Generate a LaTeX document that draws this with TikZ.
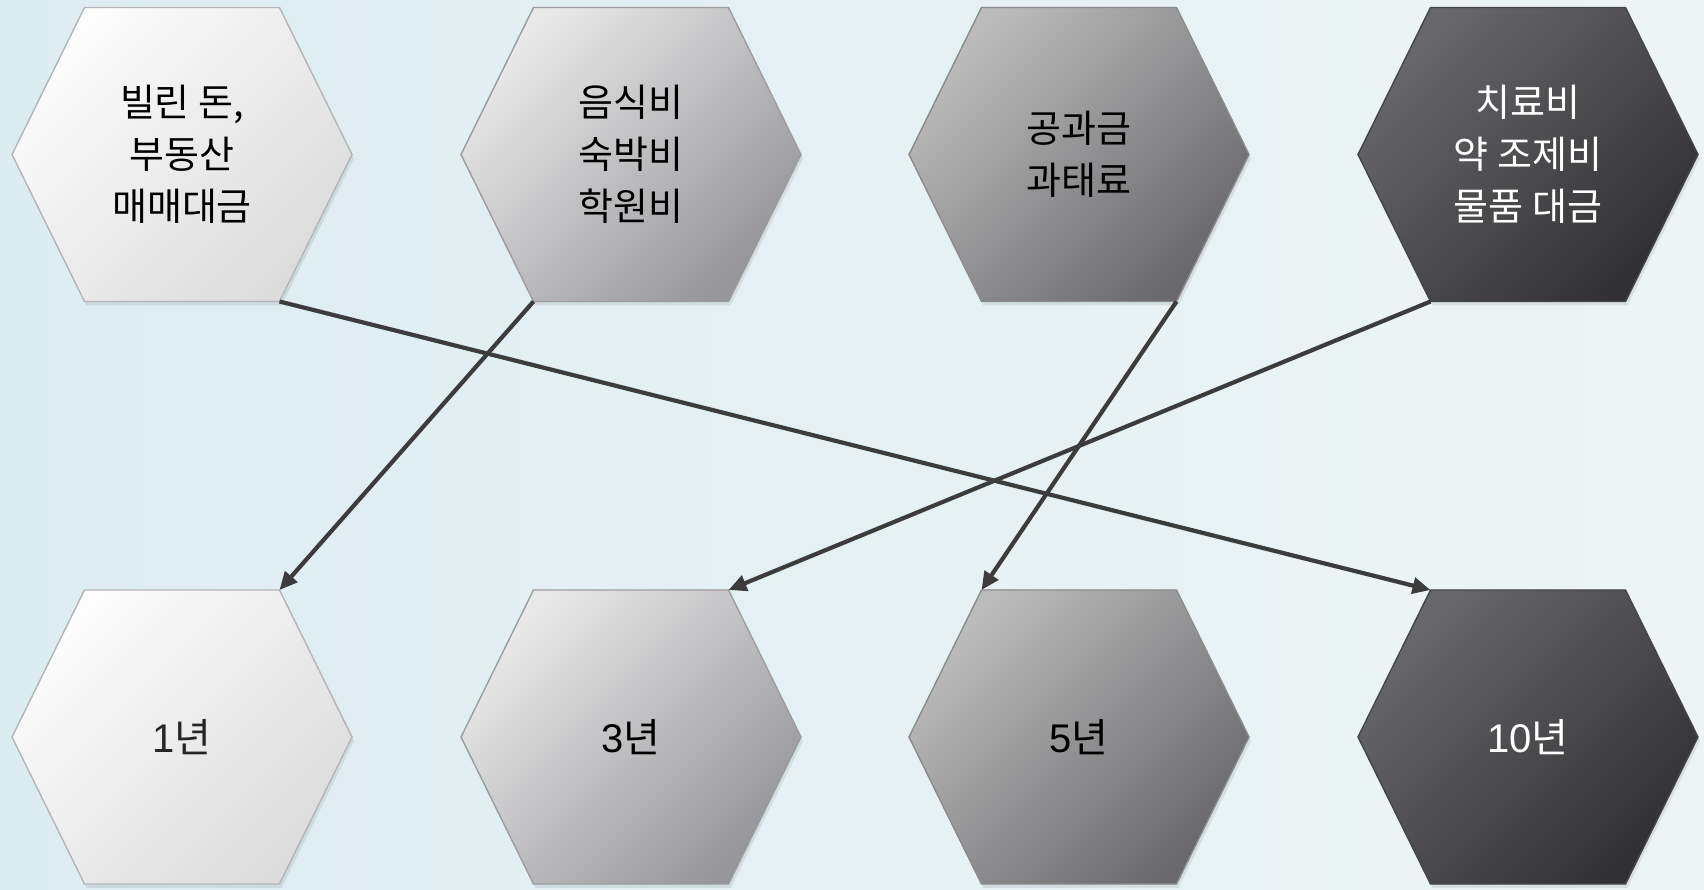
\documentclass[tikz,border=0pt]{standalone}
\usepackage{fontspec}
\newfontfamily\krfont{Noto Sans CJK KR}
\newfontfamily\numfont{Liberation Sans}
\usetikzlibrary{calc,arrows.meta,positioning}

\definecolor{bgleft}{HTML}{DCEDF2}
\definecolor{bgright}{HTML}{EEF4F5}
\definecolor{linkgray}{HTML}{3C3C3C}
\definecolor{h1a}{HTML}{FCFCFC}
\definecolor{h1b}{HTML}{DCDCDC}
\definecolor{h1d}{HTML}{B4B4B4}
\definecolor{h2a}{HTML}{E9E9E9}
\definecolor{h2b}{HTML}{96969B}
\definecolor{h2d}{HTML}{9C9C9C}
\definecolor{h3a}{HTML}{BCBCBC}
\definecolor{h3b}{HTML}{69696D}
\definecolor{h3d}{HTML}{8A8A8A}
\definecolor{h4a}{HTML}{68686C}
\definecolor{h4b}{HTML}{313133}
\definecolor{h4d}{HTML}{454545}

\begin{document}
\begin{tikzpicture}[x=1pt,y=1pt,
  hexbody/.style={line width=1.4pt},
  link/.style={draw=linkgray,line width=4.2pt,-{Triangle[length=18pt,width=16pt]}},
  toptext/.style={font=\krfont\fontsize{38}{52}\selectfont,align=center,inner sep=0pt},
  bottext/.style={font=\fontsize{40}{48}\selectfont,inner sep=0pt}]

\useasboundingbox (0,0) rectangle (1704,889);
\shade[left color=bgleft,right color=bgright] (0,0) rectangle (1704,889);

% hexagon centres, top row t, bottom row b
\foreach \i/\x in {1/182,2/631,3/1079,4/1528}{
  \coordinate (t\i) at (\x,734.5);
  \coordinate (b\i) at (\x,152);
}

% hexagons
\foreach \i/\ca/\cb/\cd in {1/h1a/h1b/h1d,2/h2a/h2b/h2d,3/h3a/h3b/h3d,4/h4a/h4b/h4d}{
  \foreach \r in {t,b}{
    \fill[black,opacity=0.08,shift={(\r\i)},xshift=2pt,yshift=-4pt]
      (-170,0) -- (-97.5,147) -- (97.5,147) -- (170,0) -- (97.5,-147) -- (-97.5,-147) -- cycle;
    \shadedraw[hexbody,shift={(\r\i)},top color=\ca,bottom color=\cb,shading angle=45,draw=\cd]
      (-170,0) -- (-97.5,147) -- (97.5,147) -- (170,0) -- (97.5,-147) -- (-97.5,-147) -- cycle;
  }
}

% corners used by the arrows
\coordinate (t1br) at ($(t1)+(97.5,-147)$);
\coordinate (t2bl) at ($(t2)+(-97.5,-147)$);
\coordinate (t3br) at ($(t3)+(97.5,-147)$);
\coordinate (t4bl) at ($(t4)+(-97.5,-147)$);
\coordinate (b1tr) at ($(b1)+(97.5,147)$);
\coordinate (b2tr) at ($(b2)+(97.5,147)$);
\coordinate (b3tl) at ($(b3)+(-97.5,147)$);
\coordinate (b4tl) at ($(b4)+(-97.5,147)$);

\node[toptext] (s1) at (t1) {빌린 돈,\\부동산\\매매대금};
\node[toptext] (s2) at (t2) {음식비\\숙박비\\학원비};
\node[toptext] (s3) at (t3) {공과금\\과태료};
\node[toptext,text=white] (s4) at (t4) {치료비\\약 조제비\\물품 대금};

\node[bottext,text=black!85] (y1) at (b1) {\numfont 1\krfont 년};
\node[bottext] (y3) at (b2) {\numfont 3\krfont 년};
\node[bottext] (y5) at (b3) {\numfont 5\krfont 년};
\node[bottext,text=white] (y10) at (b4) {\numfont 10\krfont 년};

\draw[link] (t1br) -- (b4tl);
\draw[link] (t2bl) -- (b1tr);
\draw[link] (t3br) -- (b3tl);
\draw[link] (t4bl) -- (b2tr);

\end{tikzpicture}
\end{document}
